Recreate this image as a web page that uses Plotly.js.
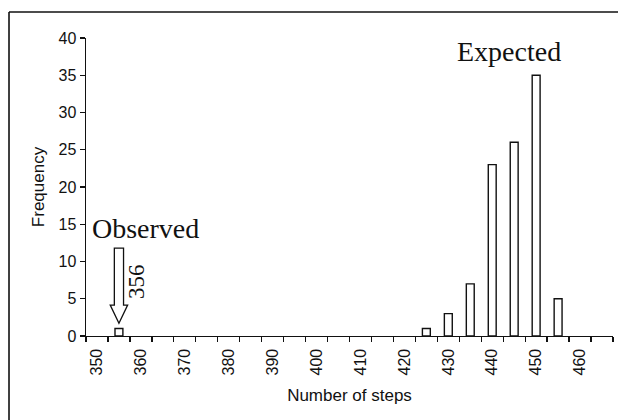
<!DOCTYPE html>
<html>
<head>
<meta charset="utf-8">
<script src="https://cdn.plot.ly/plotly-3.0.1.min.js"></script>
<style>
html,body{margin:0;padding:0;background:#fff;}
#chart{width:618px;height:420px;}
</style>
</head>
<body>
<div id="chart"></div>
<script>
// Bins (number of steps), every 5 steps
const bins = [350,355,360,365,370,375,380,385,390,395,400,405,410,415,420,425,430,435,440,445,450,455,460,465];
// Frequency per bin
const freq = [0,1,0,0,0,0,0,0,0,0,0,0,0,0,0,1,3,7,23,26,35,5,0,0];
// Tick labels (every other bin labelled)
const tickLabels = bins.map((b,i) => (i % 2 === 0 ? String(b) : ''));
// Observed value and arrow extent (frequency units)
const observedValue = 356;
const observedBin = '355';
const arrowTop = 11.8, arrowHeadStart = 4.15, arrowTip = 1.7;

const cats = bins.map(String);
const obsIdx = cats.indexOf(observedBin);

const trace = {
  type: 'bar',
  x: cats,
  y: freq.map(v => (v === 0 ? null : v)),  // empty bins draw nothing
  marker: {color: '#ffffff', line: {color: '#111111', width: 1.4}},
  hoverinfo: 'x+y'
};

const sans = '"Liberation Sans", Arial, sans-serif';
const serif = '"Liberation Serif", "Times New Roman", serif';

const layout = {
  width: 618, height: 420,
  margin: {l: 86, r: 5, t: 38, b: 84, pad: 0},
  paper_bgcolor: '#fff', plot_bgcolor: '#fff',
  showlegend: false,
  bargap: 0.64,
  xaxis: {
    type: 'category',
    range: [-0.5, bins.length - 0.5],
    tickmode: 'array',
    tickvals: cats,
    ticktext: tickLabels,
    tickson: 'boundaries',
    ticks: 'outside', ticklen: 5, tickwidth: 1.3, tickcolor: '#111',
    tickangle: -90,
    ticklabelstandoff: 5,
    tickfont: {family: sans, size: 16, color: '#111'},
    showline: true, linecolor: '#111', linewidth: 1.4,
    showgrid: false, zeroline: false,
    title: {text: 'Number of steps', font: {family: sans, size: 17, color: '#111'}, standoff: 14},
    fixedrange: true
  },
  yaxis: {
    range: [0, 40],
    dtick: 5,
    ticks: 'outside', ticklen: 5, tickwidth: 1.3, tickcolor: '#111',
    tickfont: {family: sans, size: 16, color: '#111'},
    showline: true, linecolor: '#111', linewidth: 1.4,
    showgrid: false, zeroline: false,
    title: {text: 'Frequency', font: {family: sans, size: 17, color: '#111'}, standoff: 9},
    fixedrange: true
  },
  shapes: [
    // outer frame (top and left edges)
    {type: 'line', xref: 'paper', yref: 'paper', x0: -0.1461, x1: 1.02, y0: 1.0872, y1: 1.0872, line: {color: '#111', width: 1.6}},
    {type: 'line', xref: 'paper', yref: 'paper', x0: -0.1461, x1: -0.1461, y0: 1.0872, y1: -0.3, line: {color: '#111', width: 1.6}},
    // hollow arrow pointing to observed value
    {type: 'path', xref: 'x', yref: 'y', xsizemode: 'pixel', xanchor: obsIdx,
     path: 'M-4.6,' + arrowTop + ' L4.6,' + arrowTop + ' L4.6,' + arrowHeadStart + ' L8.7,' + arrowHeadStart +
           ' L0,' + arrowTip + ' L-8.7,' + arrowHeadStart + ' L-4.6,' + arrowHeadStart + ' Z',
     fillcolor: '#ffffff', line: {color: '#111', width: 1.3}}
  ],
  annotations: [
    {text: 'Observed', xref: 'x', yref: 'y', x: 2.2, y: 14.45, showarrow: false,
     font: {family: serif, size: 28, color: '#111'}, xanchor: 'center', yanchor: 'middle'},
    {text: String(observedValue), xref: 'x', yref: 'y', x: 1.8, y: 7.3, showarrow: false, textangle: -90,
     font: {family: serif, size: 23, color: '#111'}, xanchor: 'center', yanchor: 'middle'},
    {text: 'Expected', xref: 'x', yref: 'y', x: 18.76, y: 38.2, showarrow: false,
     font: {family: serif, size: 28, color: '#111'}, xanchor: 'center', yanchor: 'middle'}
  ]
};

Plotly.newPlot('chart', [trace], layout, {displayModeBar: false, staticPlot: true});
</script>
</body>
</html>
